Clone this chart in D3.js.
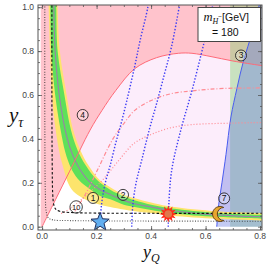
<!DOCTYPE html>
<html>
<head>
<meta charset="utf-8">
<script src="https://cdn.jsdelivr.net/npm/d3@7"></script>
<style>
    body { margin: 0; background: #fff; }
    svg { display: block; }
</style>
</head>
<body>
<script>
var xTicks = [0, 0.2, 0.4, 0.6, 0.8],
    yTicks = [0, 0.2, 0.4, 0.6, 0.8, 1.0];

// band around the best-fit curve (y_tau vs y_Q)
var bandCenter = [[0.042, 1.05], [0.043, 1.0], [0.048, 0.8], [0.063, 0.6], [0.085, 0.44], [0.105, 0.35],
    [0.13, 0.28], [0.17, 0.21], [0.213, 0.168], [0.25, 0.147], [0.3, 0.12], [0.34, 0.105],
    [0.4, 0.09], [0.46, 0.076], [0.62, 0.055], [0.82, 0.045]];
var greenOuter = [[0.051, 1.05], [0.052, 1.0], [0.057, 0.8], [0.082, 0.6], [0.106, 0.44], [0.13, 0.35],
    [0.16, 0.28], [0.2, 0.215], [0.25, 0.168], [0.3, 0.138], [0.34, 0.12], [0.4, 0.1],
    [0.46, 0.086], [0.62, 0.064], [0.82, 0.054]];
var greenInner = [[0.029, 1.05], [0.03, 1.0], [0.034, 0.8], [0.048, 0.6], [0.068, 0.44], [0.085, 0.34],
    [0.105, 0.27], [0.13, 0.22], [0.16, 0.185], [0.213, 0.14], [0.25, 0.125], [0.3, 0.1],
    [0.34, 0.09], [0.4, 0.076], [0.46, 0.064], [0.62, 0.046], [0.82, 0.036]];
var yellowOuter = [[0.056, 1.05], [0.057, 1.0], [0.065, 0.8], [0.09, 0.6], [0.114, 0.44], [0.14, 0.35],
    [0.17, 0.28], [0.213, 0.21], [0.25, 0.18], [0.3, 0.146], [0.34, 0.13], [0.4, 0.11],
    [0.46, 0.094], [0.62, 0.072], [0.82, 0.062]];
var yellowInner = [[0.022, 1.05], [0.024, 1.0], [0.029, 0.8], [0.036, 0.6], [0.05, 0.44], [0.065, 0.33],
    [0.08, 0.26], [0.095, 0.2], [0.115, 0.16], [0.15, 0.13], [0.213, 0.1], [0.25, 0.09],
    [0.3, 0.078], [0.34, 0.07], [0.4, 0.062], [0.46, 0.052], [0.62, 0.037], [0.82, 0.027]];

// region 4 boundary
var pinkEdge = [[0, 0], [0.05, 0.125], [0.1, 0.25], [0.176, 0.44], [0.22, 0.53], [0.27, 0.62],
    [0.34, 0.72], [0.42, 0.77], [0.5, 0.79], [0.55, 0.79], [0.62, 0.775], [0.7, 0.755],
    [0.8, 0.735], [0.82, 0.732]];
// region 7 boundary
var blueEdge = [[0.641, 0.0], [0.648, 0.1], [0.66, 0.2], [0.675, 0.33], [0.693, 0.5], [0.715, 0.63],
    [0.74, 0.76], [0.77, 0.88], [0.795, 1.0], [0.803, 1.05]];
var greenStrip = [0.69, 0.0];

var blueDots = [
    [[0.213, 0.0], [0.218, 0.1], [0.232, 0.2], [0.25, 0.28], [0.27, 0.38], [0.29, 0.47], [0.31, 0.57],
        [0.338, 0.72], [0.36, 0.85], [0.388, 1.0], [0.392, 1.05]],
    [[0.329, 0.0], [0.333, 0.1], [0.345, 0.2], [0.365, 0.3], [0.393, 0.44], [0.42, 0.56], [0.45, 0.7],
        [0.475, 0.82], [0.503, 1.0], [0.51, 1.05]],
    [[0.463, 0.0], [0.465, 0.1], [0.476, 0.26], [0.509, 0.44], [0.55, 0.62], [0.594, 0.837],
        [0.625, 1.0], [0.633, 1.05]]
];
var redDashDot = [[0.12, 0.07], [0.16, 0.15], [0.2, 0.25], [0.26, 0.4], [0.3, 0.47], [0.34, 0.53],
    [0.4, 0.575], [0.47, 0.605], [0.56, 0.62], [0.67, 0.63], [0.82, 0.632]];
var redDots = [[0.07, 0.06], [0.1, 0.08], [0.15, 0.13], [0.22, 0.21], [0.28, 0.3], [0.338, 0.38],
    [0.4, 0.42], [0.47, 0.45], [0.55, 0.465], [0.7, 0.472], [0.82, 0.475]];
var blackDashed = [[0.036, 1.05], [0.036, 0.6], [0.037, 0.3], [0.039, 0.15], [0.043, 0.1], [0.05, 0.08],
    [0.065, 0.07], [0.1, 0.065], [0.2, 0.062], [0.4, 0.061], [0.82, 0.061]];
var blackDotted = [[0.01, 1.05], [0.01, 0.5], [0.012, 0.15], [0.015, 0.07], [0.023, 0.04], [0.04, 0.031],
    [0.1, 0.028], [0.3, 0.026], [0.82, 0.025]];

var labels = [
    { t: '1', x: 0.187, y: 0.131 }, { t: '2', x: 0.297, y: 0.145 }, { t: '3', x: 0.73, y: 0.78 },
    { t: '4', x: 0.149, y: 0.509 }, { t: '7', x: 0.668, y: 0.129 }, { t: '10', x: 0.125, y: 0.09 }
];
var starPt = [0.213, 0.021],
    burstPt = [0.463, 0.058],
    moonPt = [0.653, 0.058];
var massLabel = '180';

(function () {
    var W = 269, H = 265;
    var svg = d3.select('body').append('svg').attr('width', W).attr('height', H);

    var x = d3.scaleLinear().domain([-0.015, 0.807]).range([38, 262]),
        y = d3.scaleLinear().domain([-0.015, 1.01]).range([230, 5]);

    var smooth = d3.line().x(function (d) { return x(d[0]); }).y(function (d) { return y(d[1]); })
        .curve(d3.curveCatmullRom);

    function poly(a, b) {
        return smooth(a) + smooth(b.slice().reverse()).replace('M', 'L') + 'Z';
    }

    svg.append('clipPath').attr('id', 'clip').append('rect')
        .attr('x', 38).attr('y', 5).attr('width', 224).attr('height', 225);

    var g = svg.append('g').attr('clip-path', 'url(#clip)');

    // lavender area above the band
    g.append('path')
        .attr('d', smooth(bandCenter) + 'L' + x(0.85) + ',' + y(0.04) + 'L' + x(0.85) + ',' + y(1.1) +
            'L' + x(0.04) + ',' + y(1.1) + 'Z')
        .attr('fill', '#fcedfb');

    // region 4
    g.append('path')
        .attr('d', smooth(pinkEdge) + 'L' + x(0.85) + ',' + y(0.73) + 'L' + x(0.85) + ',' + y(1.1) +
            'L' + x(-0.005) + ',' + y(1.1) + 'L' + x(-0.005) + ',' + y(0) + 'Z')
        .attr('fill', '#ffc3cc');

    // region 3 strip
    g.append('rect')
        .attr('x', x(greenStrip[0])).attr('y', y(1.1))
        .attr('width', x(0.85) - x(greenStrip[0])).attr('height', y(greenStrip[1]) - y(1.1))
        .attr('fill', '#7ccf6a').attr('fill-opacity', 0.4);

    // region 7
    g.append('path')
        .attr('d', smooth(blueEdge) + 'L' + x(0.85) + ',' + y(1.05) + 'L' + x(0.85) + ',' + y(0) +
            'L' + x(blueEdge[0][0]) + ',' + y(0) + 'Z')
        .attr('fill', '#6a7ae0').attr('fill-opacity', 0.4);
    g.append('path').attr('d', smooth(blueEdge))
        .attr('fill', 'none').attr('stroke', '#4a5cf0').attr('stroke-width', 1);

    // band
    g.append('path').attr('d', poly(yellowOuter, yellowInner)).attr('fill', '#fde46c');
    g.append('path').attr('d', poly(greenOuter, greenInner)).attr('fill', '#5ee05a');
    g.append('path').attr('d', smooth(bandCenter))
        .attr('fill', 'none').attr('stroke', '#9a82a8').attr('stroke-width', 1.1);

    g.append('path').attr('d', smooth(pinkEdge))
        .attr('fill', 'none').attr('stroke', '#ff6a78').attr('stroke-width', 1);

    g.append('path').attr('d', smooth(redDashDot))
        .attr('fill', 'none').attr('stroke', '#ff8a92').attr('stroke-width', 1.2)
        .attr('stroke-dasharray', '4,2,1,2');
    g.append('path').attr('d', smooth(redDots))
        .attr('fill', 'none').attr('stroke', '#ff8a92').attr('stroke-width', 1.2)
        .attr('stroke-dasharray', '1,2');

    blueDots.forEach(function (line) {
        g.append('path').attr('d', smooth(line))
            .attr('fill', 'none').attr('stroke', '#3b3bf5').attr('stroke-width', 1.4)
            .attr('stroke-dasharray', '1.4,1.8');
    });

    g.append('path').attr('d', smooth(blackDashed))
        .attr('fill', 'none').attr('stroke', '#111').attr('stroke-width', 1.1)
        .attr('stroke-dasharray', '2.5,2');
    g.append('path').attr('d', smooth(blackDotted))
        .attr('fill', 'none').attr('stroke', '#222').attr('stroke-width', 1.1)
        .attr('stroke-dasharray', '1,1.6').attr('stroke-opacity', 0.75);

    // circled labels
    var lab = g.selectAll('.lab').data(labels).enter().append('g')
        .attr('transform', function (d) { return 'translate(' + x(d.x) + ',' + y(d.y) + ')'; });
    lab.append('circle')
        .attr('r', function (d) { return d.t.length > 1 ? 6.2 : 5.5; })
        .attr('fill', 'rgba(255,255,255,0.25)').attr('stroke', '#111').attr('stroke-width', 0.8);
    lab.append('text').text(function (d) { return d.t; })
        .attr('text-anchor', 'middle').attr('dy', '0.35em')
        .attr('font-family', 'Liberation Sans, Arial, sans-serif')
        .attr('font-size', function (d) { return d.t.length > 1 ? 7.5 : 8.5; })
        .attr('fill', '#111');

    // markers
    function starPath(n, r1, r2) {
        var pts = d3.range(2 * n).map(function (i) {
            var a = i * Math.PI / n - Math.PI / 2, r = i % 2 ? r2 : r1;
            return [r * Math.cos(a), r * Math.sin(a)];
        });
        return 'M' + pts.join('L') + 'Z';
    }
    svg.append('path').attr('d', starPath(5, 9.5, 4.1))
        .attr('transform', 'translate(' + x(starPt[0]) + ',' + y(starPt[1]) + ')')
        .attr('fill', '#62aef0').attr('stroke', '#1c2c5c').attr('stroke-width', 1);

    var bx = x(burstPt[0]), by = y(burstPt[1]);
    svg.append('path').attr('d', starPath(12, 8.5, 5))
        .attr('transform', 'translate(' + bx + ',' + by + ')')
        .attr('fill', '#ff2a18');
    svg.append('circle').attr('cx', bx).attr('cy', by).attr('r', 3.8).attr('fill', '#e0784a');

    var mx = x(moonPt[0]), my = y(moonPt[1]);
    svg.append('path')
        .attr('d', 'M' + (mx + 3.75) + ',' + (my - 6.5) + 'A7.5,7.5 0 1 0 ' + (mx + 3.75) + ',' + (my + 6.5) +
            'A6.5,6.5 0 0 1 ' + (mx + 3.75) + ',' + (my - 6.5) + 'Z')
        .attr('fill', '#e9a62e').attr('stroke', '#5a3c12').attr('stroke-width', 0.9);

    // frame with inward ticks
    var frameCol = '#555';
    function ticks(axis, scale, vals, len, transform) {
        var a = axis(scale).tickValues(vals).tickSize(-len).tickSizeOuter(0).tickFormat('');
        var s = svg.append('g').attr('transform', transform).call(a);
        s.select('.domain').remove();
        s.selectAll('line').attr('stroke', frameCol).attr('stroke-width', 0.8);
        return s;
    }
    var xMinor = d3.range(0, 0.801, 0.05), yMinor = d3.range(0, 1.001, 0.05);
    ticks(d3.axisBottom, x, xMinor, 2, 'translate(0,230)');
    ticks(d3.axisBottom, x, xTicks, 4, 'translate(0,230)');
    ticks(d3.axisTop, x, xMinor, 2, 'translate(0,5)');
    ticks(d3.axisTop, x, xTicks, 4, 'translate(0,5)');
    ticks(d3.axisLeft, y, yMinor, 2, 'translate(38,0)');
    ticks(d3.axisLeft, y, yTicks, 4, 'translate(38,0)');
    ticks(d3.axisRight, y, yMinor, 2, 'translate(262,0)');
    ticks(d3.axisRight, y, yTicks, 4, 'translate(262,0)');

    svg.append('rect').attr('x', 38).attr('y', 5).attr('width', 224).attr('height', 225)
        .attr('fill', 'none').attr('stroke', frameCol).attr('stroke-width', 1);

    var fmt = d3.format('.1f');
    svg.selectAll('.xl').data(xTicks).enter().append('text')
        .attr('x', function (d) { return x(d); }).attr('y', 239)
        .attr('text-anchor', 'middle').text(fmt)
        .attr('font-family', 'Liberation Sans, Arial, sans-serif').attr('font-size', 8.5).attr('fill', '#444');
    svg.selectAll('.yl').data(yTicks).enter().append('text')
        .attr('x', 34).attr('y', function (d) { return y(d); }).attr('dy', '0.35em')
        .attr('text-anchor', 'end').text(fmt)
        .attr('font-family', 'Liberation Sans, Arial, sans-serif').attr('font-size', 8.5).attr('fill', '#444');

    // axis titles
    var serif = 'Liberation Serif, Times New Roman, serif';
    var xt = svg.append('text').attr('x', 143).attr('y', 257.5)
        .attr('font-family', serif).attr('font-style', 'italic').attr('fill', '#111');
    xt.append('tspan').attr('font-size', 18).text('y');
    xt.append('tspan').attr('font-size', 12).attr('dy', 4).text('Q');
    var yt = svg.append('text').attr('x', 9).attr('y', 122)
        .attr('font-family', serif).attr('font-style', 'italic').attr('fill', '#111');
    yt.append('tspan').attr('font-size', 21).text('y');
    yt.append('tspan').attr('font-size', 14).attr('dy', 5).text('τ');

    // mass box
    svg.append('rect').attr('x', 198).attr('y', 7.5).attr('width', 62.5).attr('height', 34)
        .attr('fill', '#fff').attr('stroke', '#444').attr('stroke-width', 1);
    var t1 = svg.append('text').attr('x', 203.5).attr('y', 21).attr('fill', '#111');
    t1.append('tspan').attr('font-family', serif).attr('font-style', 'italic').attr('font-size', 12.5).text('m');
    t1.append('tspan').attr('font-family', serif).attr('font-style', 'italic').attr('font-size', 8)
        .attr('dy', 2.5).text('H');
    t1.append('tspan').attr('font-family', 'Liberation Sans, sans-serif').attr('font-size', 6.5)
        .attr('dy', -4.5).text('−');
    t1.append('tspan').attr('font-family', 'Liberation Sans, sans-serif').attr('font-size', 10.5)
        .attr('dy', 2).text('[GeV]');
    svg.append('text').attr('x', 212).attr('y', 36).attr('fill', '#111')
        .attr('font-family', 'Liberation Sans, sans-serif').attr('font-size', 10.5)
        .text('= ' + massLabel);
}());
</script>
</body>
</html>
